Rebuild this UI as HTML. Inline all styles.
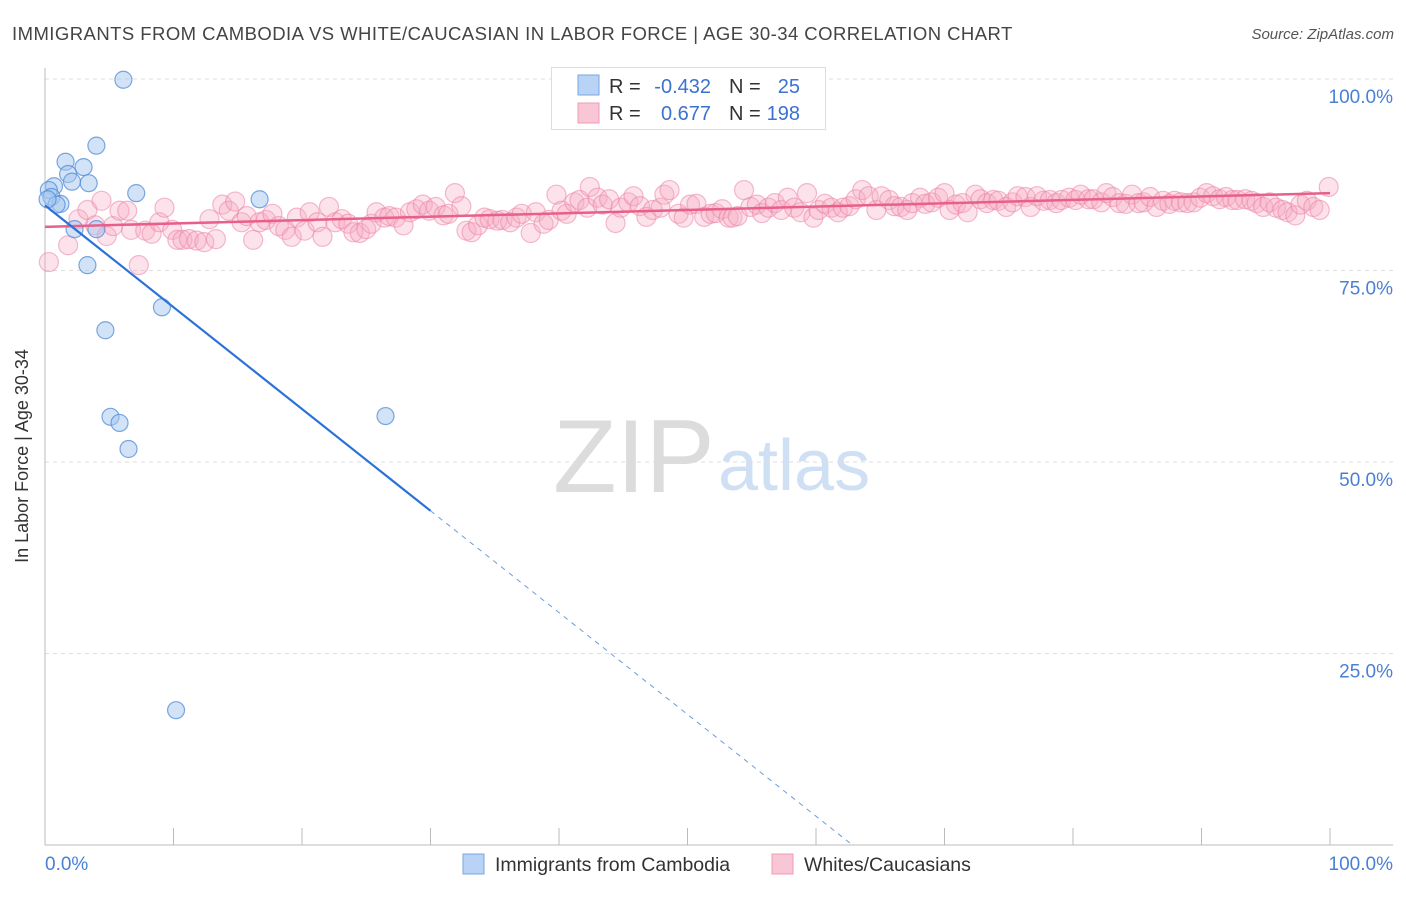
<!DOCTYPE html>
<html><head><meta charset="utf-8"><style>
body{margin:0;background:#fff;font-family:"Liberation Sans",sans-serif}
svg text{font-family:"Liberation Sans",sans-serif}
</style></head><body>
<svg id="c" width="1406" height="892" xmlns="http://www.w3.org/2000/svg">
<text x="12" y="40" font-size="18.5" letter-spacing="0.45" fill="#444">IMMIGRANTS FROM CAMBODIA VS WHITE/CAUCASIAN IN LABOR FORCE | AGE 30-34 CORRELATION CHART</text>
<text x="1394" y="39" font-size="15" fill="#555" font-style="italic" text-anchor="end">Source: ZipAtlas.com</text>
<g>
<text x="553" y="492" font-size="104" font-family="Liberation Serif,serif" fill="#dcdcdc">ZIP</text>
<text x="718" y="490" font-size="72" fill="#cfe0f5">atlas</text>
</g>
<g id="grid"></g><g id="axes"></g><g id="pink"></g><g id="blue"></g><g id="lines"></g>
<g>
<rect x="551.5" y="67.5" width="274" height="62" fill="#fff" stroke="#ddd"/>
<rect x="578" y="75" width="21" height="20" fill="#b8d3f5" stroke="#7aa7e0"/>
<rect x="578" y="103" width="21" height="20" fill="#f9c6d5" stroke="#f09ab5"/>
<text x="609" y="93" font-size="20" fill="#333">R = </text><text x="711" y="93" font-size="20" fill="#3b72d0" text-anchor="end">-0.432</text>
<text x="729" y="93" font-size="20" fill="#333">N = </text><text x="800" y="93" font-size="20" fill="#3b72d0" text-anchor="end">25</text>
<text x="609" y="120" font-size="20" fill="#333">R = </text><text x="711" y="120" font-size="20" fill="#3b72d0" text-anchor="end">0.677</text>
<text x="729" y="120" font-size="20" fill="#333">N = </text><text x="800" y="120" font-size="20" fill="#3b72d0" text-anchor="end">198</text>
</g>
<g>
<rect x="463" y="854" width="21" height="20" fill="#b8d3f5" stroke="#7aa7e0"/>
<text x="495" y="871" font-size="19.5" fill="#333">Immigrants from Cambodia</text>
<rect x="772" y="854" width="21" height="20" fill="#f9c6d5" stroke="#f09ab5"/>
<text x="804" y="871" font-size="19.5" fill="#333">Whites/Caucasians</text>
</g>
<text x="28" y="456" font-size="18" fill="#333" text-anchor="middle" transform="rotate(-90 28 456)">In Labor Force | Age 30-34</text>
</svg>
<script>
const yTicks=[100,75,50,25];
const yTickLabels=["100.0%","75.0%","50.0%","25.0%"];
const xTickLabels=["0.0%","100.0%"];
const blueX=[6.1,4.0,1.6,3.0,1.8,2.1,3.4,0.7,0.3,7.1,0.5,1.2,0.9,16.7,2.3,4.0,3.3,4.7,9.1,5.1,5.8,6.5,26.5,10.2,0.2];
const blueY=[99.9,91.3,89.2,88.5,87.6,86.6,86.4,86.0,85.5,85.1,84.6,83.7,83.6,84.3,80.4,80.4,75.7,67.2,70.2,55.9,55.1,51.7,56.0,17.6,84.3];
const pinkX=[0.3,1.8,2.6,3.3,3.9,4.4,4.8,5.3,5.8,6.4,6.7,7.3,7.8,8.3,8.9,9.3,9.9,10.3,10.7,11.2,11.8,12.4,12.8,13.3,13.8,14.3,14.8,15.3,15.7,16.2,16.7,17.2,17.7,18.2,18.7,19.2,19.6,20.2,20.6,21.2,21.6,22.1,22.6,23.1,23.6,24.0,24.5,25.0,25.4,25.8,26.4,26.8,27.3,27.9,28.4,28.9,29.4,29.9,30.4,31.0,31.4,31.9,32.4,32.8,33.2,33.7,34.2,34.6,35.2,35.6,36.2,36.7,37.1,37.8,38.2,38.8,39.2,39.8,40.2,40.6,41.2,41.6,42.2,42.4,43.0,43.4,43.9,44.4,44.8,45.4,45.8,46.3,46.8,47.3,47.9,48.2,48.6,49.3,49.7,50.2,50.7,51.3,51.8,52.2,52.7,53.2,53.5,53.9,54.4,54.9,55.4,55.8,56.3,56.8,57.3,57.8,58.3,58.8,59.3,59.8,60.2,60.7,61.2,61.7,62.1,62.6,63.1,63.6,64.1,64.7,65.1,65.7,66.1,66.6,67.1,67.5,68.1,68.5,69.0,69.5,70.0,70.4,70.9,71.4,71.8,72.4,72.8,73.3,73.8,74.2,74.8,75.3,75.7,76.3,76.7,77.2,77.7,78.2,78.7,79.1,79.7,80.2,80.6,81.2,81.6,82.2,82.6,83.1,83.6,84.1,84.6,85.1,85.5,86.0,86.5,87.0,87.5,87.9,88.4,88.9,89.4,89.9,90.4,90.9,91.4,91.9,92.4,92.8,93.4,93.9,94.3,94.8,95.3,95.8,96.3,96.7,97.3,97.7,98.2,98.7,99.2,99.9];
const pinkY=[76.1,78.3,81.7,82.9,80.9,84.1,79.5,80.8,82.8,82.8,80.3,75.7,80.2,79.8,81.3,83.2,80.3,79.0,79.0,79.1,78.9,78.7,81.7,79.1,83.6,82.8,84.0,81.3,82.1,79.0,81.3,81.6,82.4,80.8,80.3,79.4,81.9,80.2,82.6,81.3,79.4,83.3,81.3,81.7,81.1,80.0,79.9,80.4,81.1,82.6,81.9,82.1,81.9,80.9,82.6,83.0,83.6,82.8,83.3,82.2,82.4,85.1,83.4,80.2,80.0,80.9,81.9,81.7,81.5,81.6,81.3,81.9,82.4,79.9,82.6,81.1,81.6,84.9,82.8,82.4,83.9,84.2,83.2,85.9,84.5,83.6,84.3,81.2,83.2,83.9,84.7,83.4,82.0,82.9,83.2,84.9,85.5,82.4,81.9,83.6,83.7,82.0,82.4,82.5,83.0,81.9,81.9,82.1,85.5,83.3,83.6,82.5,83.2,83.8,82.9,84.5,83.2,82.6,85.1,81.9,82.9,83.7,83.2,82.6,83.2,83.4,84.3,85.5,84.7,82.9,84.7,84.2,83.4,83.3,82.9,83.8,84.5,83.7,83.9,84.5,85.1,82.9,83.6,83.8,82.6,84.9,84.3,83.8,84.2,84.1,83.3,83.9,84.7,84.6,83.3,84.7,84.1,84.2,83.8,84.2,84.5,84.2,84.9,84.3,84.3,83.9,85.1,84.6,83.8,83.7,84.9,83.8,83.9,84.6,83.3,84.1,83.7,84.1,83.9,83.8,83.9,84.5,85.1,84.7,84.3,84.6,84.2,84.2,84.3,84.1,83.8,83.3,83.9,83.2,82.9,82.6,82.2,83.6,84.1,83.3,82.9,85.9];
const blueFit=[83.5,-49.4], pinkFit=[80.7,85.1];
const NS="http://www.w3.org/2000/svg";
const X0=45,X1=1330,Y0=845,Y1=79;
function sx(v){return X0+(X1-X0)*v/100}
function sy(v){return Y0-(Y0-Y1)*v/100}
function mk(tag,attrs,parent){const e=document.createElementNS(NS,tag);for(const k in attrs)e.setAttribute(k,attrs[k]);document.getElementById(parent).appendChild(e);return e}
yTicks.forEach((t,i)=>{
 const l=mk('line',{x1:X0,x2:1393,y1:sy(t),y2:sy(t),stroke:'#ddd','stroke-dasharray':'4,4'},'grid');
 
 
 const tx=mk('text',{x:1393,y:sy(t)+24,'font-size':19,fill:'#4a7fd4','text-anchor':'end'},'grid');
 tx.textContent=yTickLabels[i];
 
 
});
const ax=mk('line',{x1:X0,x2:X0,y1:68,y2:Y0,stroke:'#bbb'},'axes');


const bx=mk('line',{x1:X0,x2:1393,y1:Y0,y2:Y0,stroke:'#bbb'},'axes');


for(let i=0;i<=10;i++){
 const t=mk('line',{x1:sx(i*10),x2:sx(i*10),y1:828,y2:Y0,stroke:'#bbb'},'axes');
 
 
}
[[0,'start',45],[100,'end',1393]].forEach((d,i)=>{
 const t=mk('text',{x:d[2],y:870,'font-size':19,fill:'#4a7fd4','text-anchor':d[1]},'axes');
 t.textContent=xTickLabels[i];
 
 
});
pinkX.forEach((x,i)=>{
 const c=mk('circle',{cx:sx(x),cy:sy(pinkY[i]),r:9.5,fill:'rgba(246,170,195,0.33)',stroke:'rgba(236,130,165,0.55)','stroke-width':1.2},'pink');
 
 
});
blueX.forEach((x,i)=>{
 const c=mk('circle',{cx:sx(x),cy:sy(blueY[i]),r:8.5,fill:'rgba(165,198,240,0.5)',stroke:'rgba(80,140,215,0.75)','stroke-width':1.2},'blue');
 
 
});
function fy(f,x){return f[0]+(f[1]-f[0])*x/100}
const pl=mk('line',{x1:sx(0),y1:sy(fy(pinkFit,0)),x2:sx(100),y2:sy(fy(pinkFit,100)),stroke:'#e8608a','stroke-width':2.5},'lines');


const bl=mk('line',{x1:sx(0),y1:sy(fy(blueFit,0)),x2:sx(30),y2:sy(fy(blueFit,30)),stroke:'#2a72d8','stroke-width':2.2},'lines');


const xe=100*fy(blueFit,0)/(fy(blueFit,0)-fy(blueFit,100));
const bd=mk('line',{x1:sx(30),y1:sy(fy(blueFit,30)),x2:sx(xe),y2:sy(0),stroke:'#6a9de0','stroke-width':1,'stroke-dasharray':'5,5'},'lines');


</script>
</body></html>
